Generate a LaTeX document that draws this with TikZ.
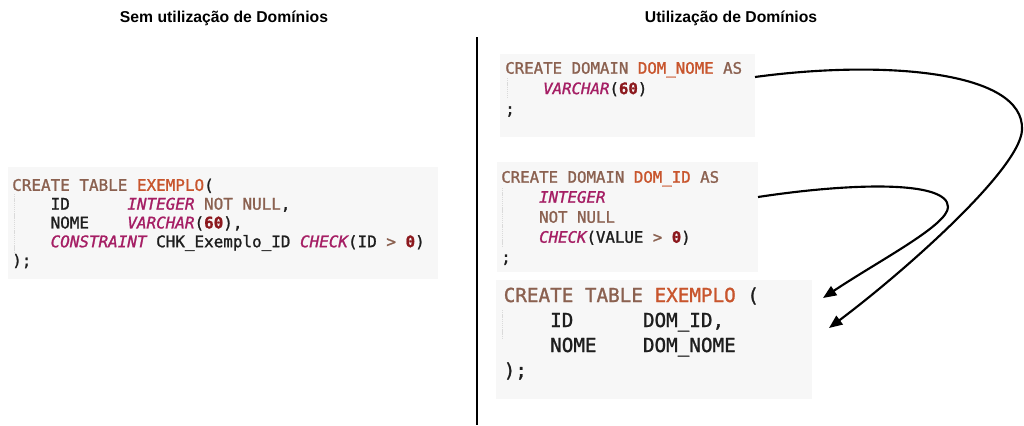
\documentclass[tikz,border=0pt]{standalone}
\usepackage{fontspec}
\setmainfont{Liberation Sans}
\setmonofont{DejaVu Sans Mono}[RawFeature={embolden=1.3}]
\usetikzlibrary{arrows.meta}

% SQL syntax colours
\definecolor{codebg}{HTML}{F7F7F7}
\definecolor{kwc}{HTML}{8B6150}
\definecolor{namec}{HTML}{C8552D}
\definecolor{typec}{HTML}{A51E64}
\definecolor{numc}{HTML}{8C191E}
\definecolor{identc}{HTML}{1E1E1E}
\definecolor{guidec}{HTML}{DADADA}

% token helpers
\newcommand\sqlkw[1]{\textcolor{kwc}{#1}}
\newcommand\sqlname[1]{\textcolor{namec}{#1}}
\newcommand\sqltype[1]{\textcolor{typec}{\itshape #1}}
\newcommand\sqlnum[1]{\textcolor{numc}{\bfseries #1}}
\newcommand\sqlgap[1]{\hspace*{\dimexpr #1\fontcharwd\font`0\relax}}

\begin{document}
\begin{tikzpicture}[x=0.75pt,y=-0.75pt,
  title/.style={font=\bfseries\fontsize{11.8pt}{14pt}\selectfont, anchor=base, inner sep=0pt},
  codebox/.style={fill=codebg, draw=none, inner sep=0pt},
  codetext/.style={anchor=base west, inner sep=0pt, text=identc},
  smallcode/.style 2 args={codetext, font=\ttfamily\fontsize{#1}{#2}\selectfont},
  bigcode/.style={codetext, font=\ttfamily\fontsize{14.45pt}{18.75pt}\selectfont},
  guide/.style={draw=guidec, line width=0.6pt, dash pattern=on 1pt off 0.6pt},
  link/.style={draw=black, line width=1.6pt, -{Triangle[length=10pt,width=8pt]}}
]
% canvas
\fill[white] (0,0) rectangle (1024,425);
\useasboundingbox (0,0) rectangle (1024,425);

% headings and divider
\node[title] (lefttitle) at (224,22.7) {Sem utilização de Domínios};
\node[title] (righttitle) at (731,22.7) {Utilização de Domínios};
\draw[line width=1.6pt] (477,37) -- (477,425);

% code panels
\node[codebox, minimum width=322.5pt, minimum height=84pt] (plainbox) at (223,223) {};
\node[codebox, minimum width=191.25pt, minimum height=62.25pt] (nomebox) at (627.5,95.5) {};
\node[codebox, minimum width=195.75pt, minimum height=82.5pt] (idbox) at (627.5,217) {};
\node[codebox, minimum width=237pt, minimum height=89.25pt] (tablebox) at (654,339.5) {};

% indentation guides
\draw[guide] (14,194) -- (14,253);
\draw[guide] (507,78) -- (507,98);
\draw[guide] (502,188) -- (502,247);
\draw[guide] (502,310) -- (502,338);

% table without domains
\node[smallcode={11.95pt}{14.1pt}] (plaincode) at (12,190.8) {%
\begin{tabular}[t]{@{}l@{}}
\sqlkw{CREATE TABLE} \sqlname{EXEMPLO}(\\
\sqlgap{4}ID\sqlgap{6}\sqltype{INTEGER} \sqlkw{NOT NULL},\\
\sqlgap{4}NOME\sqlgap{4}\sqltype{VARCHAR}(\sqlnum{60}),\\
\sqlgap{4}\sqltype{CONSTRAINT} CHK\_Exemplo\_ID \sqltype{CHECK}(ID \sqlkw{>} \sqlnum{0})\\
);
\end{tabular}};

% domain for names
\node[smallcode={11.8pt}{15.3pt}] (nomecode) at (505,73.7) {%
\begin{tabular}[t]{@{}l@{}}
\sqlkw{CREATE DOMAIN} \sqlname{DOM\_NOME} \sqlkw{AS}\\
\sqlgap{4}\sqltype{VARCHAR}(\sqlnum{60})\\
;
\end{tabular}};

% domain for identifiers
\node[smallcode={11.8pt}{15pt}] (idcode) at (501,182.7) {%
\begin{tabular}[t]{@{}l@{}}
\sqlkw{CREATE DOMAIN} \sqlname{DOM\_ID} \sqlkw{AS}\\
\sqlgap{4}\sqltype{INTEGER}\\
\sqlgap{4}\sqlkw{NOT NULL}\\
\sqlgap{4}\sqltype{CHECK}(VALUE \sqlkw{>} \sqlnum{0})\\
;
\end{tabular}};

% table using the domains
\node[bigcode] (tablecode) at (503.5,302) {%
\begin{tabular}[t]{@{}l@{}}
\sqlkw{CREATE TABLE} \sqlname{EXEMPLO} (\\
\sqlgap{4}ID\sqlgap{6}DOM\_ID,\\
\sqlgap{4}NOME\sqlgap{4}DOM\_NOME\\
);
\end{tabular}};

% connector endpoints
\coordinate (nomeout) at (755,77);
\coordinate (idout) at (758,197);
\coordinate (nomein) at (829,328);
\coordinate (idin) at (823,298);
\coordinate (nomebend) at (1022,130);
\coordinate (idbend) at (948,207);

% domain -> table connectors
\draw[link] (nomeout) .. controls (880,60) and (1025,70) .. (nomebend)
  .. controls (1020,170) and (900,275) .. (nomein);
\draw[link] (idout) .. controls (850,183) and (948,180) .. (idbend)
  .. controls (948,225) and (880,260) .. (idin);
\end{tikzpicture}
\end{document}
